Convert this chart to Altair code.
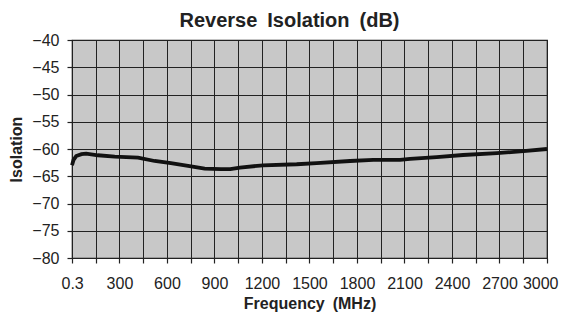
import altair as alt
import pandas as pd

freq_mhz = [0.3, 10, 27, 60, 90, 164, 270, 417, 522, 625, 733, 838, 941, 1000,
            1061, 1207, 1419, 1545, 1756, 1903, 2072, 2135, 2303, 2470, 2684, 2851, 3000]
isolation_db = [-63.0, -62.0, -61.3, -60.95, -60.85, -61.15, -61.4, -61.6, -62.2, -62.6,
                -63.1, -63.6, -63.7, -63.7, -63.4, -63.0, -62.8, -62.6, -62.2, -62.0,
                -62.0, -61.8, -61.5, -61.1, -60.75, -60.4, -60.0]
x_ticks = [0.3] + [150 * i for i in range(1, 21)]
y_ticks = [-80, -75, -70, -65, -60, -55, -50, -45, -40]

df = pd.DataFrame({"freq": freq_mhz, "iso": isolation_db})

FONT = "Liberation Sans"
SP = "\u2002"

chart = alt.Chart(df).mark_line(color="#111111", strokeWidth=3.8, interpolate="linear").encode(
    x=alt.X("freq:Q",
            scale=alt.Scale(domain=[0.3, 3000], nice=False, zero=False),
            axis=alt.Axis(values=x_ticks,
                          labelExpr="datum.value < 1 ? '0.3' : (datum.value % 300 == 0 ? format(datum.value, 'd') : '')",
                          title=f"Frequency{SP}(MHz)", labelPadding=12, titlePadding=4,
                          labelFlush=True, labelFlushOffset=11, labelOverlap=False)),
    y=alt.Y("iso:Q",
            scale=alt.Scale(domain=[-80, -40], nice=False, zero=False),
            axis=alt.Axis(values=y_ticks, title="Isolation", labelPadding=8, titlePadding=7)),
).properties(
    width=475, height=218,
    background="white",
    autosize=alt.AutoSizeParams(type="none"),
    padding={"left": 64, "top": 32, "right": 13, "bottom": 54},
    title=alt.TitleParams(f"Reverse{SP}Isolation{SP}(dB)", font=FONT, fontSize=20,
                          fontWeight="bold", color="#222222", offset=1, dx=-20),
).configure_view(
    fill="#c8c8c8", stroke="#111111", strokeWidth=1.2
).configure_axis(
    grid=True, gridColor="#222222", gridOpacity=1, gridWidth=1,
    domain=False, tickColor="#222222", tickSize=5, tickWidth=1.2,
    labelFont=FONT, labelFontSize=16, labelColor="#222222",
    titleFont=FONT, titleFontSize=16, titleFontWeight="bold", titleColor="#222222",
)

chart.save("out.html", embed_options={"renderer": "svg", "actions": False})
